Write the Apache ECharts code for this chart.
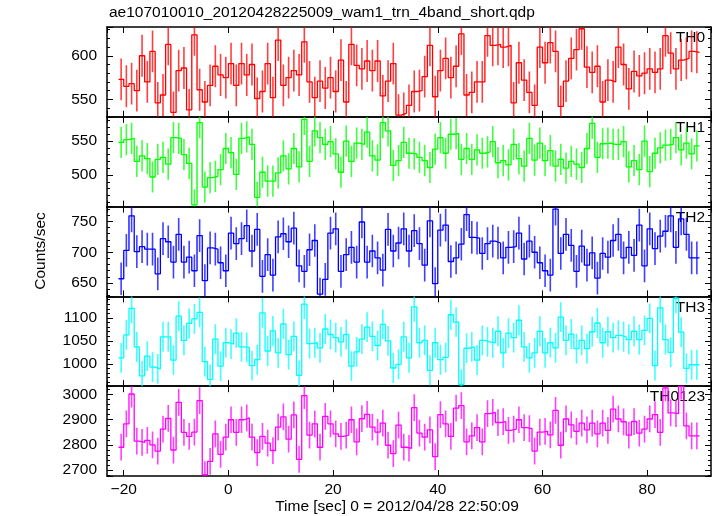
<!DOCTYPE html>
<html><head><meta charset="utf-8">
<script src="https://cdn.jsdelivr.net/npm/echarts@6/dist/echarts.min.js"></script>
<style>html,body{margin:0;padding:0;background:#fff}#c{width:717px;height:516px}</style>
</head><body><div id="c"></div>
<script>
// bin structure (seconds)
const binStart = -21, binWidth = 1;
const titleText = 'ae107010010_20120428225009_wam1_trn_4band_short.qdp';
const xLabel = 'Time [sec] 0 = 2012/04/28 22:50:09';
const yLabel = 'Counts/sec';
const panelNames = ['TH0','TH1','TH2','TH3','TH0123'];
const colors = ['#ff0000','#00ff00','#0000ff','#00ffff','#ff00ff'];

const th0 = [573,565,568,560,600,570,605,546,555,613, 535,583,586,538,624,561,547,566,588,578,
 575,591,566,591,578,590,551,559,591,552, 618,566,575,583,578,616,570,552,571,563,
 575,559,595,547,613,589,585,594,583,594, 554,571,591,532,534,543,559,
 560,576,612,553,583,597,575,588,625,555, 558,570,570,623,612,613,610,612,546,592,
 572,558,543,610,592,615,605,542,571,597, 607,631,587,581,588,547,572,570,610,590,
 562,582,577,580,585,581,585,623,603,585, 595,597,605,604];
const th1 = [548,552,554,520,528,524,497,523,526,516, 555,554,530,517,456,577,482,496,498,508,
 539,533,501,554,556,545,467,504,491,491, 503,528,509,539,512,582,520,565,555,545,
 549,531,504,550,520,547,545,563,528,522, 577,565,514,521,548,532,531,
 526,521,511,538,555,532,560,561,523,539, 523,537,532,534,549,518,521,515,545,524,
 513,554,522,547,521,536,513,523,510,520, 516,511,539,576,526,546,547,545,545,549,
 512,521,508,550,505,532,540,544,545,555, 537,547,531,543];
const th2 = [657,703,759,701,709,705,705,665,722,717, 684,729,684,692,670,727,654,707,705,683,
 670,731,714,722,743,702,737,661,696,663, 725,730,717,739,678,669,704,719,632,656,
 731,738,669,696,708,684,749,684,702,691, 671,737,702,715,738,702,735,
 714,679,751,649,736,744,685,691,713,761, 724,723,698,714,718,715,691,708,709,731,
 689,718,700,683,670,663,770,698,729,711, 669,710,679,699,658,698,692,719,729,691,
 708,695,744,678,738,706,726,734,759,708, 754,729,691,691];
const th3 = [1013,1063,1121,1037,974,1017,993,989,1059,1059, 1008,1104,1051,1088,1098,1112,1005,966,1054,995,
 1046,1043,1067,1037,1036,996,1009,1111,1028,1072, 1024,1087,1020,1060,975,1130,1044,1046,1035,1076,
 1064,1057,1048,1064,995,1026,1054,1080,1060,1040, 1086,1050,991,999,1059,1013,1124,
 1046,1051,986,1046,1009,1014,1107,1091,955,1034, 1037,1008,1051,1048,1046,1071,1024,1067,1057,1095,
 1037,1013,1024,1071,1024,1046,1035,1102,1051,1065, 1033,1051,1033,1070,1089,1046,1070,1057,1062,1059,
 1053,1071,1053,1073,1099,996,1122,1053,1025,1143, 1069,990,998,998];
const th0123 = [2791,2884,3002,2815,2810,2818,2800,2776,2863,2905, 2780,2969,2850,2834,2851,2976,2682,2735,2844,2763,
 2831,2900,2850,2900,2907,2831,2770,2834,2807,2778, 2871,2911,2823,2919,2743,2996,2839,2884,2791,2913,
 2884,2844,2834,2839,2900,2812,2904,2921,2871,2851, 2887,2799,2766,2879, 2791,2787,2948,
 2847,2831,2860,2754,2920,2884,2834,2946,2956,2812, 2836,2869,2812,2924,2929,2889,2893,2858,2863,2900,
 2869,2865,2776,2851,2854,2840,2937,2799,2903,2880, 2854,2887,2860,2887,2844,2887,2858,2942,2903,2892,
 2839,2893,2847,2863,2903,2920,2850,3026,2927,2924, 3033,2876,2836,2836];
// half-length of error bars, per panel
const errHalf = [24, 23, 26.5, 32.5, 53];
// axis ranges
const xRange = [-23.2, 92.2];
const xStep = 20;
const yMin = [530, 453.4, 628.4, 951.3, 2677];
const yMax = [633, 585.7, 774, 1147, 3033];
const yStep = [50, 50, 50, 50, 100];

const seriesValues = [th0, th1, th2, th3, th0123];
const FONT = 'Liberation Sans, Arial, Helvetica, sans-serif';
const gLeft = 107, gWidth = 604, gTop = 27, gH = 89.8;

const grids = [], xAxes = [], yAxes = [], series = [], graphics = [];
seriesValues.forEach((vals, i) => {
  grids.push({left: gLeft, top: gTop + i * gH, width: gWidth, height: gH});
  const axLine = {show: true, onZero: false, lineStyle: {color: '#000', width: 1.5}};
  ['bottom','top'].forEach(pos => {
    xAxes.push({
      type: 'value', gridIndex: i, position: pos, min: xRange[0], max: xRange[1],
      minInterval: xStep, maxInterval: xStep,
      axisLine: axLine,
      axisTick: {show: true, inside: true, length: 6, lineStyle: {color: '#000', width: 1}},
      splitLine: {show: false},
      axisLabel: {show: pos === 'bottom' && i === 4, showMinLabel: false, showMaxLabel: false,
        margin: 6, color: '#000', fontSize: 15.5, fontFamily: FONT,
        formatter: v => String(v).replace('-', '\u2212')}
    });
  });
  ['left','right'].forEach(pos => {
    yAxes.push({
      type: 'value', gridIndex: i, position: pos, min: yMin[i], max: yMax[i],
      minInterval: yStep[i], maxInterval: yStep[i],
      axisLine: axLine,
      axisTick: {show: true, inside: true, length: 6, lineStyle: {color: '#000', width: 1}},
      minorTick: {show: true, splitNumber: 5, length: 3, lineStyle: {color: '#000', width: 1}},
      splitLine: {show: false}, minorSplitLine: {show: false},
      axisLabel: {show: pos === 'left', showMinLabel: false, showMaxLabel: false,
        margin: 10, color: '#000', fontSize: 15.5, fontFamily: FONT,
        formatter: v => String(v)}
    });
  });
  // histogram steps: left edges with values, plus closing right edge
  const stepData = vals.map((v, k) => [binStart + k * binWidth, v]);
  stepData.push([binStart + vals.length * binWidth, vals[vals.length - 1]]);
  series.push({
    type: 'line', xAxisIndex: 2 * i, yAxisIndex: 2 * i, step: 'end',
    data: stepData, showSymbol: false, symbol: 'none', clip: true,
    lineStyle: {color: colors[i], width: 1.3}, silent: true
  });
  const errData = vals.map((v, k) => [binStart + (k + 0.5) * binWidth, v, errHalf[i]]);
  const col = colors[i];
  series.push({
    type: 'custom', xAxisIndex: 2 * i, yAxisIndex: 2 * i, clip: true, silent: true,
    data: errData, encode: {x: 0, y: 1},
    renderItem: (params, api) => {
      const t = api.value(0), v = api.value(1), e = api.value(2);
      const p1 = api.coord([t, v - e]), p2 = api.coord([t, v + e]);
      return {type: 'line', shape: {x1: p1[0], y1: p1[1], x2: p2[0], y2: p2[1]},
        style: {stroke: col, lineWidth: 1.6, opacity: 0.75}};
    }
  });
  graphics.push({type: 'text', right: 717 - 705, top: gTop + i * gH + 3,
    style: {text: panelNames[i], fill: '#000', font: '15.5px ' + FONT}});
});
graphics.push({type: 'text', left: 109, top: 5,
  style: {text: titleText, fill: '#000', font: '15.5px ' + FONT}});
graphics.push({type: 'text', x: 397, y: 507,
  style: {text: xLabel, fill: '#000', font: '15.5px ' + FONT, align: 'center', verticalAlign: 'middle'}});
graphics.push({type: 'text', x: 41, y: 251, rotation: Math.PI / 2,
  style: {text: yLabel, fill: '#000', font: '15.5px ' + FONT, align: 'center', verticalAlign: 'middle'}});

const chart = echarts.init(document.getElementById('c'), null, {renderer: 'canvas'});
chart.setOption({
  animation: false, backgroundColor: '#fff',
  textStyle: {fontFamily: FONT},
  grid: grids, xAxis: xAxes, yAxis: yAxes, series: series, graphic: graphics
});
</script></body></html>
